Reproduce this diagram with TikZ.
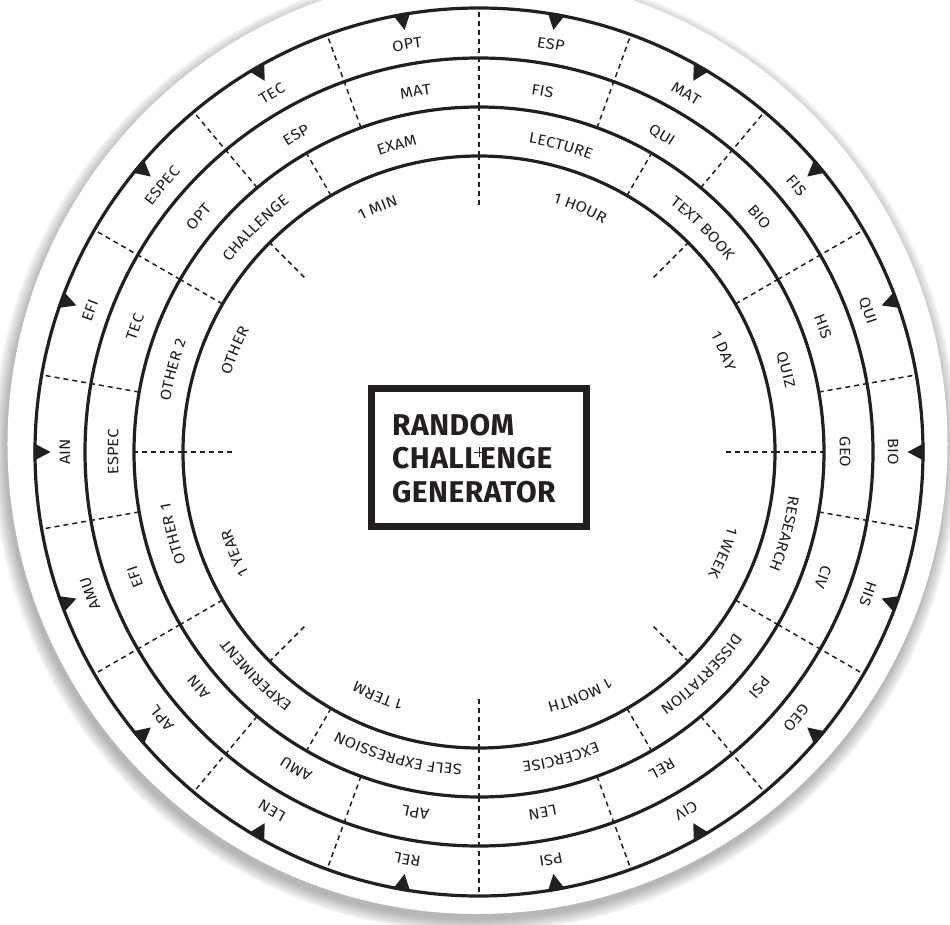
\documentclass[tikz,border=0pt]{standalone}
\usepackage{fontspec}
\setmainfont{Fira Sans}
\newfontfamily\lbl[FakeStretch=1.1]{Fira Sans}
\newfontfamily\ttlfam[LetterSpace=1.5]{Fira Sans}
\newcommand\lblf{\lbl\fontsize{15}{17}\selectfont}
\newcommand\ttlf{\ttlfam\fontsize{30}{33}\selectfont\bfseries}
\usetikzlibrary{decorations.text}
\definecolor{ink}{HTML}{231F20}
\newcommand\arclabel[4]{%
  \path[decorate,decoration={text along path,text align=center,text color=ink,text={|\lblf|#4}}]
    (#1+#3:#2) arc[start angle=#1+#3,end angle=#1-#3,radius=#2];}
\tikzset{
  ringline/.style={draw=ink,line width=3.2},
  dsh/.style={draw=ink,line width=1.5,dash pattern=on 5 off 4},
  tri/.style={fill=ink},
  ttl/.style={font=\ttlf,text=ink,anchor=base west,inner sep=0}
}
\begin{document}
\begin{tikzpicture}[x=1pt,y=1pt]
\useasboundingbox (-479,-472) rectangle (471,452);
% shadow and disk
\foreach \k in {0,...,13} \fill[black,opacity=0.022] (-3.5,2) circle ({470+\k});
\fill[white] (-1.5,8) circle (470);
% rings
\foreach \r in {444,394,345,296} \draw[ringline] (0,0) circle (\r);
% dashed separators
\foreach \a in {0,45,...,315} \draw[dsh] (\a:247) -- (\a:296);
\foreach \a in {0,30,...,330} \draw[dsh] (\a:296) -- (\a:345);
\foreach \a in {10,30,...,350} \draw[dsh] (\a:345) -- (\a:444);
% triangles
\foreach \a in {0,20,...,340} \fill[tri] (\a:428.5) -- (\a+1.15:445.5) -- (\a-1.15:445.5) -- cycle;
% ring 1
\arclabel{112.5}{260}{20}{1 MIN}
\arclabel{67.5}{260}{20}{1 HOUR}
\arclabel{22.5}{260}{20}{1 DAY}
\arclabel{-22.5}{260}{20}{1 WEEK}
\arclabel{-67.5}{260}{20}{1 MONTH}
\arclabel{-112.5}{260}{20}{1 TERM}
\arclabel{-157.5}{260}{20}{1 YEAR}
\arclabel{157.5}{260}{20}{OTHER}
% ring 2
\arclabel{105}{313}{14.8}{EXAM}
\arclabel{75}{313}{14.8}{LECTURE}
\arclabel{45}{313}{14.8}{TEXT BOOK}
\arclabel{15}{313}{14.8}{QUIZ}
\arclabel{-15}{313}{14.8}{RESEARCH}
\arclabel{-45}{313}{14.8}{DISSERTATION}
\arclabel{-75}{313}{14.8}{EXCERCISE}
\arclabel{-105}{313}{14.8}{SELF EXPRESSION}
\arclabel{-135}{313}{14.8}{EXPERIMENT}
\arclabel{-165}{313}{14.8}{OTHER 1}
\arclabel{165}{313}{14.8}{OTHER 2}
\arclabel{135}{313}{14.8}{CHALLENGE}
% ring 3
\arclabel{0}{361}{9.5}{GEO}
\arclabel{20}{361}{9.5}{HIS}
\arclabel{40}{361}{9.5}{BIO}
\arclabel{60}{361}{9.5}{QUI}
\arclabel{80}{361}{9.5}{FIS}
\arclabel{100}{361}{9.5}{MAT}
\arclabel{120}{361}{9.5}{ESP}
\arclabel{140}{361}{9.5}{OPT}
\arclabel{160}{361}{9.5}{TEC}
\arclabel{180}{361}{9.5}{ESPEC}
\arclabel{200}{361}{9.5}{EFI}
\arclabel{220}{361}{9.5}{AIN}
\arclabel{240}{361}{9.5}{AMU}
\arclabel{260}{361}{9.5}{APL}
\arclabel{280}{361}{9.5}{LEN}
\arclabel{300}{361}{9.5}{REL}
\arclabel{320}{361}{9.5}{PSI}
\arclabel{340}{361}{9.5}{CIV}
% ring 4
\arclabel{0}{409}{9.5}{BIO}
\arclabel{20}{409}{9.5}{QUI}
\arclabel{40}{409}{9.5}{FIS}
\arclabel{60}{409}{9.5}{MAT}
\arclabel{80}{409}{9.5}{ESP}
\arclabel{100}{409}{9.5}{OPT}
\arclabel{120}{409}{9.5}{TEC}
\arclabel{140}{409}{9.5}{ESPEC}
\arclabel{160}{409}{9.5}{EFI}
\arclabel{180}{409}{9.5}{AIN}
\arclabel{200}{409}{9.5}{AMU}
\arclabel{220}{409}{9.5}{APL}
\arclabel{240}{409}{9.5}{LEN}
\arclabel{260}{409}{9.5}{REL}
\arclabel{280}{409}{9.5}{PSI}
\arclabel{300}{409}{9.5}{CIV}
\arclabel{320}{409}{9.5}{GEO}
\arclabel{340}{409}{9.5}{HIS}
% title box
\draw[draw=ink,line width=7] (-107.5,-74.5) rectangle (107.5,64);
\node[ttl] (t1) at (-87,17) {RANDOM};
\node[ttl] (t2) at (-87,-16) {CHALLENGE};
\node[ttl] (t3) at (-87,-50) {GENERATOR};
\draw[ink,line width=0.5] (-5,0) -- (5,0) (0,-5) -- (0,5);
\end{tikzpicture}
\end{document}
